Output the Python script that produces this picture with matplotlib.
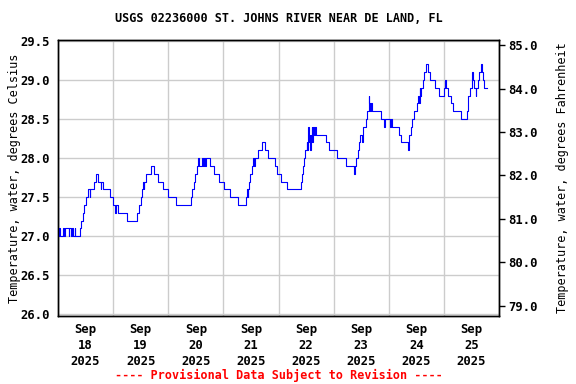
import datetime as dt
import numpy as np
import matplotlib
matplotlib.use("Agg")
import matplotlib.pyplot as plt
import matplotlib.dates as mdates
from matplotlib.ticker import FormatStrFormatter, MultipleLocator

plt.rcParams['font.family'] = ['DejaVu Sans Mono']
plt.rcParams['font.weight'] = 'bold'

title = "USGS 02236000 ST. JOHNS RIVER NEAR DE LAND, FL"
footer = "---- Provisional Data Subject to Revision ----"
ylabel_c = "Temperature, water, degrees Celsius"
ylabel_f = "Temperature, water, degrees Fahrenheit"

# hours after 2025-09-18 00:00, step values (deg C)
hours = [0.0, 0.6, 0.9, 2.0, 2.6, 2.9, 4.6, 4.9, 5.7, 6.3, 6.6, 7.3, 7.6, 9.4,
         10.0, 10.8, 11.5, 12.2, 13.2, 13.8, 14.1, 15.6, 16.5, 17.6, 18.6,
         18.9, 19.5, 22.7, 24.1, 24.8, 25.1, 26.0, 30.0, 34.5, 35.3, 36.0,
         36.5, 37.0, 37.4, 37.6, 38.1, 40.4, 41.6, 43.5, 45.7, 47.9, 51.5,
         58.0, 58.4, 59.0, 59.8, 60.5, 61.0, 61.3, 62.7, 63.2, 63.5, 64.0,
         64.3, 66.3, 67.8, 70.0, 72.1, 75.1, 78.4, 82.0, 82.4, 82.7, 82.9,
         83.1, 83.8, 84.5, 85.0, 85.4, 85.7, 87.2, 88.9, 90.3, 91.3, 94.3,
         95.4, 97.2, 99.8, 105.6, 106.1, 106.6, 107.0, 107.6, 108.2, 108.5,
         108.8, 109.0, 109.3, 109.6, 109.9, 110.2, 110.5, 110.8, 111.1, 111.5,
         112.0, 112.3, 116.5, 118.0, 121.3, 125.2, 128.8, 129.1, 129.9, 130.5,
         131.1, 131.7, 132.4, 132.7, 134.2, 134.7, 135.3, 135.6, 135.9, 136.2,
         136.5, 140.5, 141.9, 142.4, 144.6, 145.0, 145.4, 148.5, 149.2, 152.2,
         152.6, 153.0, 153.6, 154.3, 155.0, 156.2, 156.8, 157.1, 157.4, 157.7,
         158.0, 158.7, 159.4, 160.1, 161.3, 162.0, 164.1, 166.0, 167.9, 168.7,
         169.0, 169.6, 171.1, 171.8, 175.4, 177.9, 178.3, 178.6, 179.5, 180.1,
         180.7, 181.2, 181.8, 182.2, 183.0, 183.4, 184.3, 184.6, 184.9, 185.4,
         186.8]
temps = [27.0, 27.1, 27.0, 27.1, 27.0, 27.1, 27.0, 27.1, 27.0, 27.1, 27.0, 27.1, 27.0, 27.1,
         27.2, 27.3, 27.4, 27.5, 27.6, 27.5, 27.6, 27.7, 27.8, 27.7, 27.6,
         27.7, 27.6, 27.5, 27.4, 27.3, 27.4, 27.3, 27.2, 27.3, 27.4, 27.5,
         27.6, 27.7, 27.6, 27.7, 27.8, 27.9, 27.8, 27.7, 27.6, 27.5, 27.4,
         27.5, 27.6, 27.7, 27.8, 27.9, 28.0, 27.9, 28.0, 27.9, 28.0, 27.9,
         28.0, 27.9, 27.8, 27.7, 27.6, 27.5, 27.4, 27.5, 27.6, 27.5, 27.6,
         27.7, 27.8, 27.9, 28.0, 27.9, 28.0, 28.1, 28.2, 28.1, 28.0, 27.9,
         27.8, 27.7, 27.6, 27.7, 27.8, 27.9, 28.0, 28.1, 28.2, 28.1,
         28.2, 28.4, 28.2, 28.3, 28.1, 28.3, 28.4, 28.2, 28.4, 28.3,
         28.4, 28.3, 28.2, 28.1, 28.0, 27.9, 27.8, 27.9, 28.0, 28.1,
         28.2, 28.3, 28.2, 28.4, 28.5, 28.6, 28.8, 28.7, 28.6, 28.7,
         28.6, 28.5, 28.4, 28.5, 28.4, 28.5, 28.4, 28.3, 28.2, 28.1,
         28.2, 28.3, 28.4, 28.5, 28.6, 28.7, 28.8, 28.7, 28.9, 28.8,
         28.9, 29.0, 29.1, 29.2, 29.1, 29.0, 28.9, 28.8, 28.9, 29.0,
         28.9, 28.8, 28.7, 28.6, 28.5, 28.6, 28.7, 28.8, 28.9, 29.1,
         29.0, 28.9, 28.8, 28.9, 29.0, 29.1, 29.2, 29.1, 29.0, 28.9,
         28.9]

start = dt.datetime(2025, 9, 18)
times = [start + dt.timedelta(hours=h) for h in hours]

fig = plt.figure(figsize=(5.76, 3.84), dpi=100)
ax = fig.add_axes([58 / 576, 1 - 316 / 384, 441 / 576, 276 / 384])

ax.plot(times, temps, color='#0000ff', lw=0.8, drawstyle='steps-post', zorder=3)

ax.set_xlim(start, start + dt.timedelta(days=8))
ax.set_ylim(25.98, 29.51)
ax.yaxis.set_major_locator(MultipleLocator(0.5))
ax.yaxis.set_major_formatter(FormatStrFormatter('%.1f'))

ax.xaxis.set_minor_locator(mdates.DayLocator())
ax.xaxis.set_major_locator(mdates.HourLocator(byhour=[12]))
ax.xaxis.set_major_formatter(mdates.DateFormatter('%b\n%d\n%Y'))
ax.grid(which='minor', axis='x', color='#cccccc', lw=1.0)
ax.grid(which='major', axis='y', color='#cccccc', lw=1.0)
ax.tick_params(axis='x', which='both', length=0, pad=5, labelsize=8.8)
ax.tick_params(axis='y', length=0, pad=6, labelsize=8.8)
for lab in ax.get_xticklabels():
    lab.set_linespacing(1.3)

ax2 = ax.twinx()
lo, hi = ax.get_ylim()
ax2.set_ylim(lo * 1.8 + 32, hi * 1.8 + 32)
ax2.yaxis.set_major_locator(MultipleLocator(1.0))
ax2.yaxis.set_major_formatter(FormatStrFormatter('%.1f'))
ax2.tick_params(axis='y', length=4, width=1, pad=3, labelsize=8.8)

for a in (ax, ax2):
    for s in a.spines.values():
        s.set_linewidth(1.0)
        s.set_color('black')

ax.set_ylabel(ylabel_c, fontsize=8.5)
ax.yaxis.set_label_coords(-0.085, 0.5)
ax2.set_ylabel(ylabel_f, fontsize=8.5)
ax2.yaxis.set_label_coords(1.129, 0.5)

fig.text((58 + 499) / 2 / 576, 1 - 19 / 384, title, ha='center', va='center',
         fontsize=8.5, fontweight='bold')
fig.text((58 + 499) / 2 / 576, 1 - 375 / 384, footer, ha='center', va='center',
         fontsize=8.5, fontweight='bold', color='#ff0000')

fig.savefig('out.png', dpi=100)
